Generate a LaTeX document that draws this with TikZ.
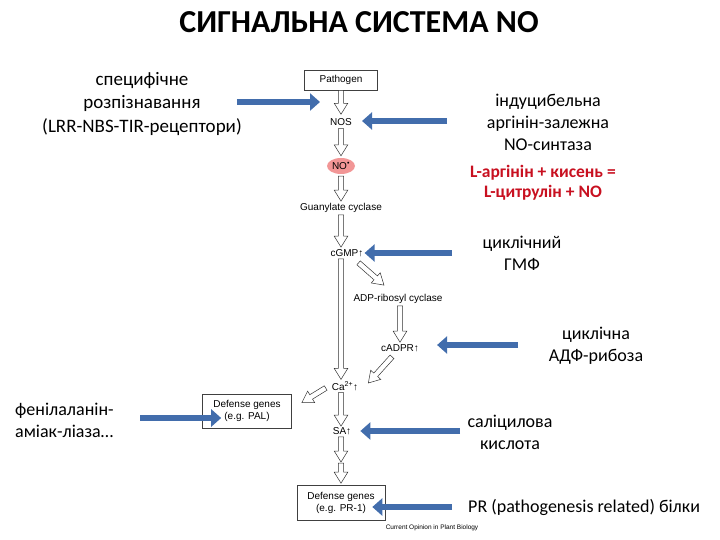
\documentclass[tikz,border=0pt]{standalone}
\usepackage{fontspec}
\setmainfont{Carlito}
\newfontfamily\figfont{Liberation Sans}
\usepackage{tikz}
\usetikzlibrary{arrows.meta, positioning, calc, shapes.geometric}
\definecolor{arrblue}{RGB}{66,109,172}
\definecolor{eqred}{RGB}{200,16,32}
\definecolor{nopink}{RGB}{242,150,150}

% open block arrow from #1 to #2 (canvas units)
\newcommand{\hollowarrow}[2]{%
  \path let \p1=(#1), \p2=(#2) in
    \pgfextra{%
      \pgfmathsetmacro\haang{atan2(\y2-\y1,\x2-\x1)}%
      \pgfmathsetmacro\halen{veclen(\x2-\x1,\y2-\y1)}%
      \xdef\haang{\haang}\xdef\halen{\halen}%
      \xdef\hax{\x1}\xdef\hay{\y1}};
  \draw[hollow, shift={(\hax,\hay)}, rotate=\haang]
    (0pt,-2.6pt) -- (\halen pt-11pt,-2.6pt) -- (\halen pt-11pt,-6.8pt)
    -- (\halen pt,0pt) -- (\halen pt-11pt,6.8pt) -- (\halen pt-11pt,2.6pt)
    -- (0pt,2.6pt) -- cycle;}

\begin{document}
\begin{tikzpicture}[x=1pt, y=-1pt,
  note/.style={font=\fontsize{18}{22}\selectfont, align=center, inner sep=0pt},
  eqn/.style={font=\fontsize{17.5}{19.5}\selectfont\bfseries, text=eqred,
              align=center, inner sep=0pt},
  fig/.style={font=\figfont\fontsize{10}{12}\selectfont, align=center,
              inner sep=1pt},
  figbox/.style={fig, draw=black!75, line width=0.6pt},
  hint/.style={-{Triangle[width=17pt,length=10pt]}, line width=6.5pt,
               draw=arrblue},
  hollow/.style={draw=black!80, fill=white, line width=0.5pt}
]
  \useasboundingbox (0,0) rectangle (720,540);

  \node[font=\fontsize{32}{38}\selectfont\bfseries] (title) at (359,22)
       {СИГНАЛЬНА СИСТЕМА NO};

  % pathway figure
  \node[figbox, minimum width=73pt, minimum height=20pt] (pathogen) at (341,80) {Pathogen};
  \node[fig] (nos) at (341,122) {NOS};
  \node[fig, ellipse, fill=nopink, inner sep=0pt, minimum width=28pt,
        minimum height=16pt] (no) at (341,166) {NO\textsuperscript{•}};
  \node[fig] (gc) at (341,208) {Guanylate cyclase};
  \node[fig] (cgmp) at (347,253) {cGMP↑};
  \node[fig] (adprc) at (398,299) {ADP-ribosyl cyclase};
  \node[fig] (cadpr) at (400,348) {cADPR↑};
  \node[fig] (ca) at (345,386) {Ca\textsuperscript{2+}↑};
  \node[figbox, minimum width=89pt, minimum height=34pt] (pal) at (247,411)
       {Defense genes\\(e.g. PAL)};
  \node[fig] (sa) at (342,431) {SA↑};
  \node[figbox, minimum width=88pt, minimum height=35pt] (pr) at (341,503)
       {Defense genes\\(e.g. PR-1)};
  \node[fig, font=\figfont\fontsize{6.5}{7}\selectfont] (credit) at (432,528)
       {Current Opinion in Plant Biology};
  \coordinate (mid) at (341,462);

  \hollowarrow{pathogen.south}{$(nos.north)+(0,-3)$}
  \hollowarrow{$(nos.south)+(0,2)$}{$(no.north)+(0,-2)$}
  \hollowarrow{$(no.south)+(0,2)$}{$(gc.north)+(0,-1)$}
  \hollowarrow{$(gc.south)+(0,1)$}{$(cgmp.north -| gc.south)+(0,-1)$}
  \hollowarrow{$(cgmp.south -| gc.south)+(0,1)$}{$(ca.north -| gc.south)+(0,-1)$}
  \hollowarrow{$(cgmp.south east)+(-6,5)$}{$(adprc.north)+(-14,-8)$}
  \hollowarrow{$(adprc.south)+(2,1)$}{$(cadpr.north)+(0,-1)$}
  \hollowarrow{$(cadpr.south)+(-8,4)$}{$(ca.east)+(9,-3)$}
  \hollowarrow{$(ca.west)+(-5,2)$}{$(pal.north east)+(10,9)$}
  \hollowarrow{$(ca.south -| gc.south)+(0,1)$}{$(sa.north -| gc.south)+(0,0)$}
  \hollowarrow{$(sa.south -| gc.south)+(0,1)$}{mid}
  \hollowarrow{$(mid)+(0,1)$}{$(pr.north)+(0,-2)$}

  % annotations
  \node[note, font=\fontsize{19}{23.5}\selectfont] (recog) at (142,104)
       {специфічне\\розпізнавання\\(LRR-NBS-TIR-рецептори)};
  \node[note] (indu) at (548,122) {індуцибельна\\аргінін-залежна\\NO-синтаза};
  \node[eqn] (eq) at (543,183) {L-аргінін + кисень =\\L-цитрулін + NO};
  \node[note] (gmp) at (522,253) {циклічний\\ГМФ};
  \node[note] (adpr) at (596,346) {циклічна\\АДФ-рибоза};
  \node[note] (sal) at (510,432) {саліцилова\\кислота};
  \node[note, align=left, anchor=west] (phen) at (15,420) {фенілаланін-\\аміак-ліаза…};
  \node[note, anchor=west] (prt) at (468,507) {PR (pathogenesis related) білки};

  % blue pointers
  \coordinate (recogto) at (320,102);
  \coordinate (nosfrom) at (447,121);
  \coordinate (cgmpfrom) at (452,253);
  \coordinate (cadprfrom) at (518,345);
  \coordinate (safrom) at (460,431);
  \coordinate (palfrom) at (140,418);
  \coordinate (prfrom) at (452,507);
  \draw[hint] ($(recog.east |- recogto)+(-5,0)$) -- (recogto);
  \draw[hint] (nosfrom) -- ($(nos.east |- nosfrom)+(9,0)$);
  \draw[hint] (cgmpfrom) -- (cgmp.east |- cgmpfrom);
  \draw[hint] (cadprfrom) -- ($(cadpr.east |- cadprfrom)+(17,0)$);
  \draw[hint] (safrom) -- ($(sa.east |- safrom)+(8,0)$);
  \draw[hint] (palfrom) -- ($(pal.west |- palfrom)+(19,0)$);
  \draw[hint] (prfrom) -- ($(pr.east |- prfrom)+(-13,0)$);
\end{tikzpicture}
\end{document}
